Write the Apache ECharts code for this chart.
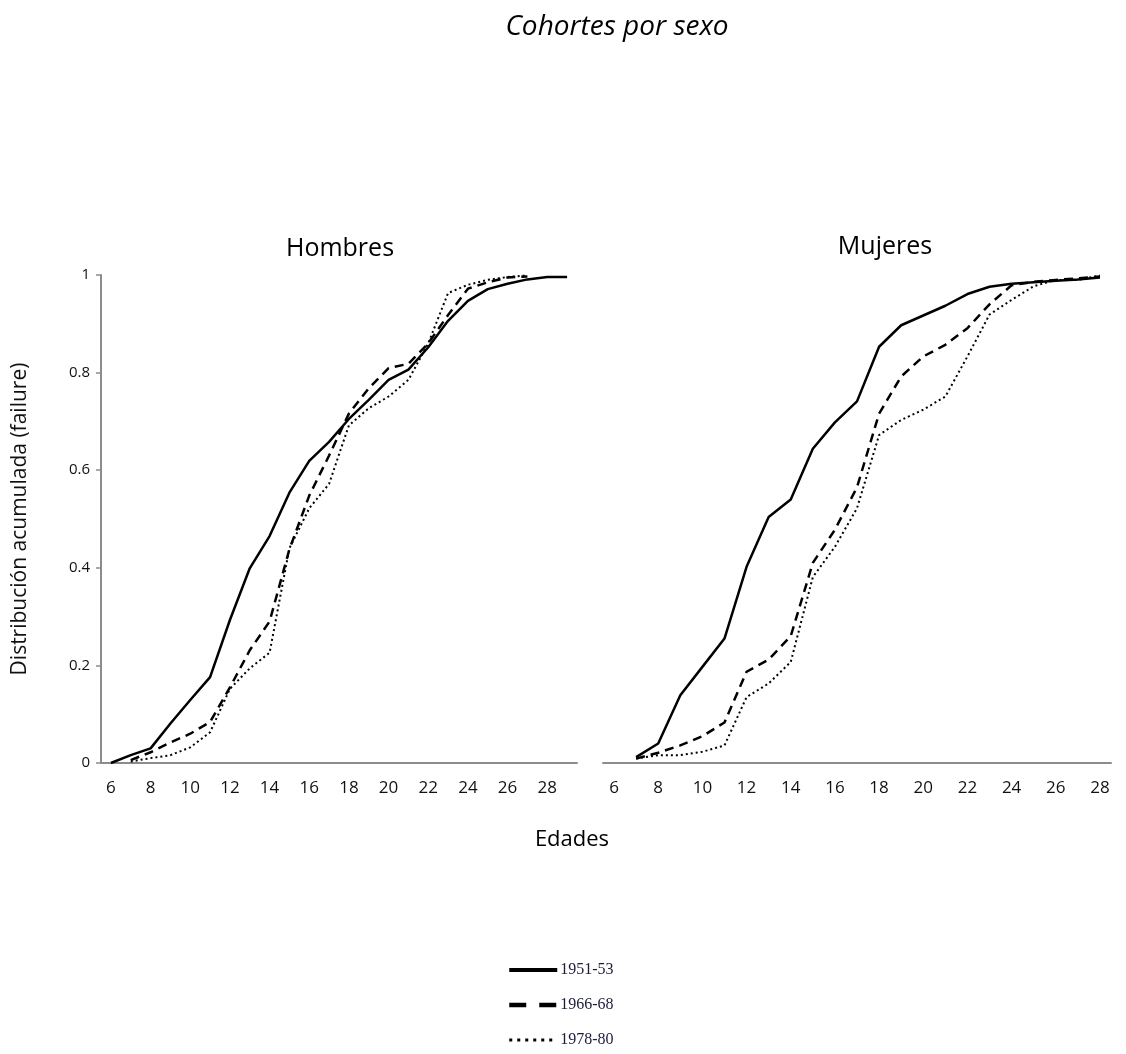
<!DOCTYPE html>
<html>
<head>
<meta charset="utf-8">
<title>Cohortes por sexo</title>
<script src="https://cdn.jsdelivr.net/npm/echarts@6/dist/echarts.min.js"></script>
<style>
  html, body { margin: 0; padding: 0; background: #ffffff; }
  #chart { width: 1126px; height: 1054px; }
</style>
</head>
<body>
<div id="chart"></div>
<script>
// Ages on each panel's category axis
const edadesHombres = [6, 7, 8, 9, 10, 11, 12, 13, 14, 15, 16, 17, 18, 19, 20, 21, 22, 23, 24, 25, 26, 27, 28, 29];
const edadesMujeres = [6, 7, 8, 9, 10, 11, 12, 13, 14, 15, 16, 17, 18, 19, 20, 21, 22, 23, 24, 25, 26, 27, 28];

// Cohort names
const cohortes = ['1951-53', '1966-68', '1978-80'];

// Cumulative distribution (failure), men, by age 6..29
const hombres1951 = [0, 0.016, 0.030, 0.081, 0.129, 0.176, 0.293, 0.399, 0.465, 0.554, 0.619, 0.658, 0.705, 0.744, 0.785, 0.806, 0.852, 0.906, 0.947, 0.971, 0.982, 0.991, 0.996, 0.996];
const hombres1966 = [null, 0.006, 0.022, 0.042, 0.060, 0.084, 0.155, 0.231, 0.290, 0.438, 0.548, 0.630, 0.716, 0.768, 0.809, 0.818, 0.860, 0.918, 0.972, 0.985, 0.995, 0.997, null, null];
const hombres1978 = [null, 0.003, 0.010, 0.016, 0.032, 0.063, 0.152, 0.194, 0.226, 0.440, 0.522, 0.572, 0.692, 0.727, 0.751, 0.785, 0.860, 0.963, 0.980, 0.990, 0.996, 0.999, null, null];

// Cumulative distribution (failure), women, by age 6..28
const mujeres1951 = [null, 0.012, 0.040, 0.139, 0.197, 0.255, 0.402, 0.504, 0.540, 0.644, 0.698, 0.741, 0.853, 0.897, 0.917, 0.937, 0.961, 0.976, 0.982, 0.985, 0.988, 0.991, 0.995];
const mujeres1966 = [null, 0.009, 0.021, 0.036, 0.055, 0.083, 0.187, 0.212, 0.260, 0.410, 0.478, 0.565, 0.716, 0.792, 0.833, 0.857, 0.891, 0.940, 0.979, 0.986, 0.990, 0.993, 0.997];
const mujeres1978 = [null, 0.009, 0.016, 0.016, 0.023, 0.036, 0.135, 0.163, 0.207, 0.381, 0.443, 0.522, 0.672, 0.703, 0.724, 0.751, 0.833, 0.919, 0.949, 0.977, 0.990, 0.990, 0.999];

const FONT = '"Open Sans", "Noto Sans", sans-serif';
const axisGray = '#8c8c8c';

const lineStyles = [
  { color: '#000', width: 2.5, type: 'solid' },
  { color: '#000', width: 2.5, type: [9, 6] },
  { color: '#000', width: 2, type: [2, 3] }
];

// Legend keys are drawn bolder than the plotted lines
const legendLineStyles = [
  { width: 4, type: 'solid' },
  { width: 4.5, type: [17, 13] },
  { width: 3, type: [3, 5] }
];

function xAxisFor(gridIndex, cats) {
  return {
    type: 'category',
    gridIndex: gridIndex,
    data: cats.map(String),
    boundaryGap: true,
    axisLine: { show: true, lineStyle: { color: axisGray, width: 2 } },
    axisTick: { show: false },
    axisLabel: { interval: 1, color: '#111', fontFamily: FONT, fontSize: 17, margin: 17 },
    splitLine: { show: false }
  };
}

function yAxisFor(gridIndex, visible) {
  return {
    type: 'value',
    gridIndex: gridIndex,
    min: 0,
    max: 1,
    interval: 0.2,
    axisLine: { show: visible, lineStyle: { color: axisGray, width: 2 } },
    axisTick: { show: visible, length: 5, lineStyle: { color: axisGray, width: 1.5 } },
    axisLabel: { show: visible, color: '#111', fontFamily: FONT, fontSize: 15, margin: 11 },
    splitLine: { show: false },
    name: visible ? 'Distribución acumulada (failure)' : '',
    nameLocation: 'middle',
    nameRotate: 90,
    nameGap: 70,
    nameTextStyle: { color: '#111', fontFamily: FONT, fontSize: 21 }
  };
}

function serie(name, data, idx, axisIdx) {
  return {
    name: name,
    type: 'line',
    xAxisIndex: axisIdx,
    yAxisIndex: axisIdx,
    data: data,
    showSymbol: false,
    symbol: 'none',
    connectNulls: false,
    lineStyle: lineStyles[idx],
    itemStyle: { color: '#000' },
    animation: false
  };
}

const chart = echarts.init(document.getElementById('chart'), null, { renderer: 'canvas' });

chart.setOption({
  backgroundColor: '#ffffff',
  animation: false,
  grid: [
    { left: 101, top: 275, width: 476, height: 488 },
    { left: 603, top: 275, width: 508, height: 488 }
  ],
  xAxis: [xAxisFor(0, edadesHombres), xAxisFor(1, edadesMujeres)],
  yAxis: [yAxisFor(0, true), yAxisFor(1, false)],
  legend: {
    show: true,
    orient: 'vertical',
    left: 507,
    top: 962,
    height: 90,
    padding: 0,
    itemWidth: 48,
    itemHeight: 14,
    itemGap: 19,
    data: cohortes.map((c, i) => ({ name: c, lineStyle: legendLineStyles[i] })),
    itemStyle: { opacity: 0 },
    textStyle: { color: '#1c1c3a', fontFamily: '"Liberation Serif", "DejaVu Serif", serif', fontSize: 16, padding: [0, 0, 0, -2] }
  },
  graphic: [
    { type: 'text', silent: true,
      style: { text: 'Cohortes por sexo', x: 617, y: 27, textAlign: 'center', textVerticalAlign: 'middle',
               font: 'italic 28px "Open Sans", sans-serif', fill: '#000' } },
    { type: 'text', silent: true,
      style: { text: 'Hombres', x: 340, y: 249, textAlign: 'center', textVerticalAlign: 'middle',
               font: '25px "Open Sans", sans-serif', fill: '#000' } },
    { type: 'text', silent: true,
      style: { text: 'Mujeres', x: 885, y: 247, textAlign: 'center', textVerticalAlign: 'middle',
               font: '25px "Open Sans", sans-serif', fill: '#000' } },
    { type: 'text', silent: true,
      style: { text: 'Edades', x: 572, y: 840, textAlign: 'center', textVerticalAlign: 'middle',
               font: '22px "Open Sans", sans-serif', fill: '#000' } }
  ],
  series: [
    serie(cohortes[0], hombres1951, 0, 0),
    serie(cohortes[1], hombres1966, 1, 0),
    serie(cohortes[2], hombres1978, 2, 0),
    serie(cohortes[0], mujeres1951, 0, 1),
    serie(cohortes[1], mujeres1966, 1, 1),
    serie(cohortes[2], mujeres1978, 2, 1)
  ]
});
</script>
</body>
</html>
